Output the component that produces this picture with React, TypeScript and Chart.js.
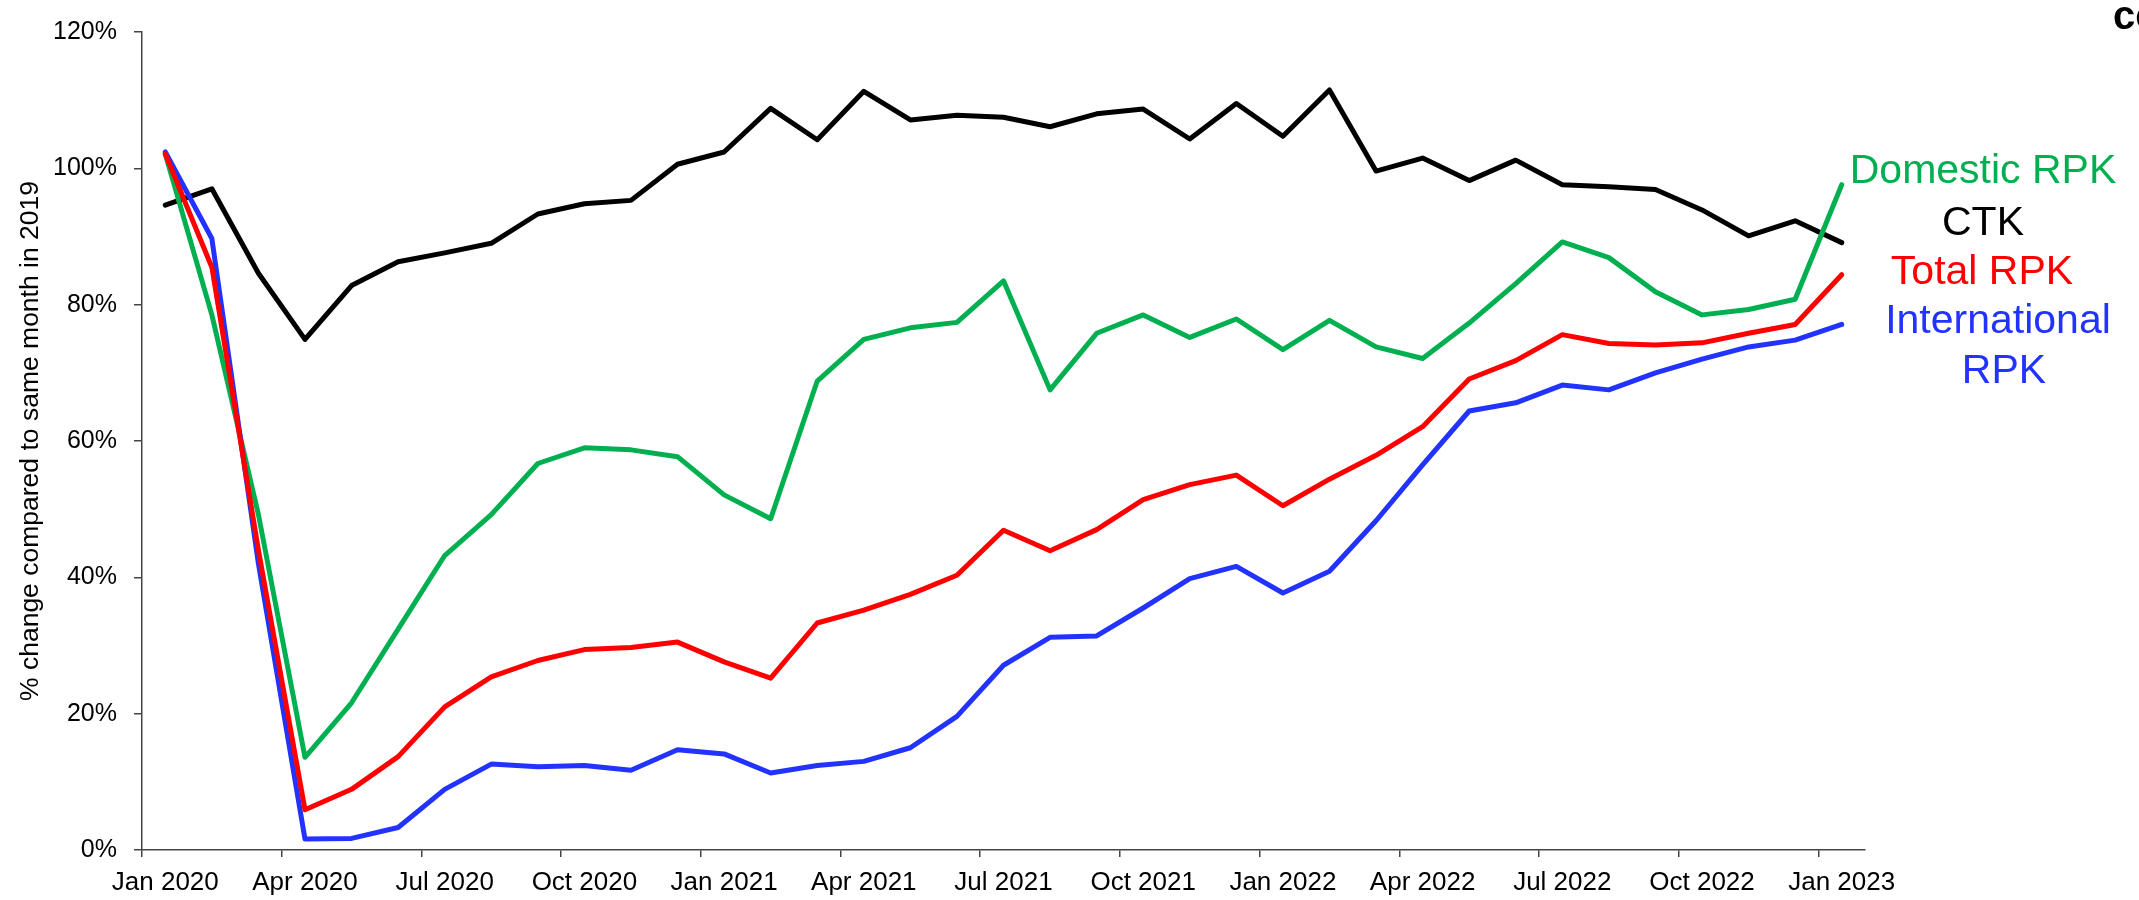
import React, { useEffect, useRef } from 'react';
import { Chart, registerables } from 'chart.js';

Chart.register(...registerables);

const MONTHS = [
  'Jan 2020', 'Feb 2020', 'Mar 2020', 'Apr 2020', 'May 2020', 'Jun 2020',
  'Jul 2020', 'Aug 2020', 'Sep 2020', 'Oct 2020', 'Nov 2020', 'Dec 2020',
  'Jan 2021', 'Feb 2021', 'Mar 2021', 'Apr 2021', 'May 2021', 'Jun 2021',
  'Jul 2021', 'Aug 2021', 'Sep 2021', 'Oct 2021', 'Nov 2021', 'Dec 2021',
  'Jan 2022', 'Feb 2022', 'Mar 2022', 'Apr 2022', 'May 2022', 'Jun 2022',
  'Jul 2022', 'Aug 2022', 'Sep 2022', 'Oct 2022', 'Nov 2022', 'Dec 2022',
  'Jan 2023',
];

const CTK = [
  94.6, 97.0, 84.6, 74.9, 82.8, 86.3, 87.6, 89.0, 93.3, 94.8, 95.3, 100.6,
  102.4, 108.8, 104.2, 111.3, 107.1, 107.8, 107.5, 106.1, 108.0, 108.7, 104.3, 109.5,
  104.7, 111.5, 99.6, 101.5, 98.2, 101.2, 97.6, 97.3, 96.9, 93.9, 90.1, 92.3,
  89.1,
];

const DOMESTIC_RPK = [
  102.1, 78.5, 49.2, 13.6, 21.6, 32.4, 43.2, 49.2, 56.7, 59.0, 58.7, 57.7,
  52.1, 48.6, 68.8, 74.9, 76.6, 77.4, 83.5, 67.5, 75.8, 78.5, 75.2, 77.9,
  73.4, 77.7, 73.8, 72.1, 77.3, 83.1, 89.2, 86.9, 81.9, 78.5, 79.3, 80.8,
  97.6,
];

const TOTAL_RPK = [
  102.1, 85.5, 44.0, 5.9, 8.9, 13.7, 21.0, 25.4, 27.8, 29.4, 29.7, 30.5,
  27.6, 25.2, 33.3, 35.2, 37.5, 40.3, 46.9, 43.9, 47.0, 51.4, 53.6, 55.0,
  50.5, 54.4, 57.9, 62.1, 69.1, 71.8, 75.6, 74.3, 74.1, 74.4, 75.8, 77.1,
  84.4,
];

const INTERNATIONAL_RPK = [
  102.4, 89.7, 42.0, 1.6, 1.7, 3.3, 8.9, 12.6, 12.2, 12.4, 11.7, 14.7,
  14.1, 11.3, 12.4, 13.0, 15.0, 19.6, 27.1, 31.2, 31.4, 35.5, 39.8, 41.6,
  37.7, 40.9, 48.3, 56.5, 64.4, 65.6, 68.2, 67.5, 70.0, 72.0, 73.8, 74.8,
  77.1,
];

const Y_MIN = 0;
const Y_MAX = 120;
const Y_STEP = 20;
const TICK_EVERY = 3;

const Y_TITLE = '% change compared to same month in 2019';
const SERIES_LABELS = ['Domestic RPK', 'CTK', 'Total RPK', 'International', 'RPK'];

const GREEN = '#00B050';
const BLACK = '#000000';
const RED = '#FF0000';
const BLUE = '#2233FF';
const AXIS = '#444444';
const FONT = "'Liberation Sans', Arial, sans-serif";

const sideLabels = {
  id: 'sideLabels',
  afterDraw(chart: any) {
    const ctx = chart.ctx;
    ctx.save();
    ctx.textBaseline = 'alphabetic';
    ctx.textAlign = 'center';
    ctx.font = `41px ${FONT}`;
    const items = [
      { t: SERIES_LABELS[0], c: GREEN, x: 1983, y: 183 },
      { t: SERIES_LABELS[1], c: BLACK, x: 1983, y: 235 },
      { t: SERIES_LABELS[2], c: RED, x: 1982, y: 284 },
      { t: SERIES_LABELS[3], c: BLUE, x: 1998, y: 333 },
      { t: SERIES_LABELS[4], c: BLUE, x: 2004, y: 383 },
    ];
    for (const it of items) {
      ctx.fillStyle = it.c;
      ctx.fillText(it.t, it.x, it.y);
    }
    ctx.textAlign = 'left';
    ctx.fillStyle = '#000';
    ctx.font = `bold 40px ${FONT}`;
    ctx.fillText('co', 2113, 29);
    ctx.restore();
  },
};

export default function App() {
  const ref = useRef<HTMLCanvasElement | null>(null);

  useEffect(() => {
    if (!ref.current) return;
    const mk = (label: string, data: number[], color: string) => ({
      label,
      data,
      borderColor: color,
      backgroundColor: color,
      borderWidth: 5,
      pointRadius: 0,
      pointHoverRadius: 0,
      tension: 0,
      fill: false,
      borderCapStyle: 'round' as const,
      borderJoinStyle: 'round' as const,
    });
    const chart = new Chart(ref.current, {
      type: 'line',
      data: {
        labels: MONTHS,
        datasets: [
          mk('Total RPK', TOTAL_RPK, RED),
          mk('International RPK', INTERNATIONAL_RPK, BLUE),
          mk('Domestic RPK', DOMESTIC_RPK, GREEN),
          mk('CTK', CTK, BLACK),
        ],
      },
      options: {
        responsive: false,
        animation: false,
        events: [],
        layout: { padding: { top: 16, right: 274, bottom: 0, left: 0 } },
        plugins: {
          legend: { display: false },
          tooltip: { enabled: false },
          title: { display: false },
        },
        scales: {
          x: {
            type: 'category',
            offset: true,
            border: { display: true, color: AXIS, width: 1.5 },
            grid: {
              offset: true,
              drawOnChartArea: false,
              drawTicks: true,
              tickLength: 7,
              lineWidth: 1.5,
              color: AXIS,
              tickColor: (c: any) => (c.index % TICK_EVERY === 0 ? AXIS : 'rgba(0,0,0,0)'),
            },
            ticks: {
              autoSkip: false,
              maxRotation: 0,
              minRotation: 0,
              padding: 10,
              color: '#000',
              font: { family: FONT, size: 26 },
              callback: (_v: any, i: number) => (i % TICK_EVERY === 0 ? MONTHS[i] : ''),
            },
            afterFit: (s: any) => { s.height = 50; },
          },
          y: {
            type: 'linear',
            min: Y_MIN,
            max: Y_MAX,
            border: { display: true, color: AXIS, width: 1.5 },
            grid: {
              drawOnChartArea: false,
              drawTicks: true,
              tickLength: 8,
              lineWidth: 1.5,
              color: AXIS,
            },
            ticks: {
              stepSize: Y_STEP,
              padding: 17,
              color: '#000',
              font: { family: FONT, size: 25 },
              callback: (v: any) => `${v}%`,
            },
            title: {
              display: true,
              text: Y_TITLE,
              color: '#000',
              font: { family: FONT, size: 26.5 },
              padding: { top: 15, bottom: 0 },
            },
            afterFit: (s: any) => { s.width = 142; },
          },
        },
      },
      plugins: [sideLabels],
    });
    return () => chart.destroy();
  }, []);

  return (
    <div style={{ position: 'fixed', left: 0, top: 0, width: 2139, height: 900, background: '#fff' }}>
      <canvas ref={ref} width={2139} height={900} style={{ display: 'block' }} />
    </div>
  );
}
